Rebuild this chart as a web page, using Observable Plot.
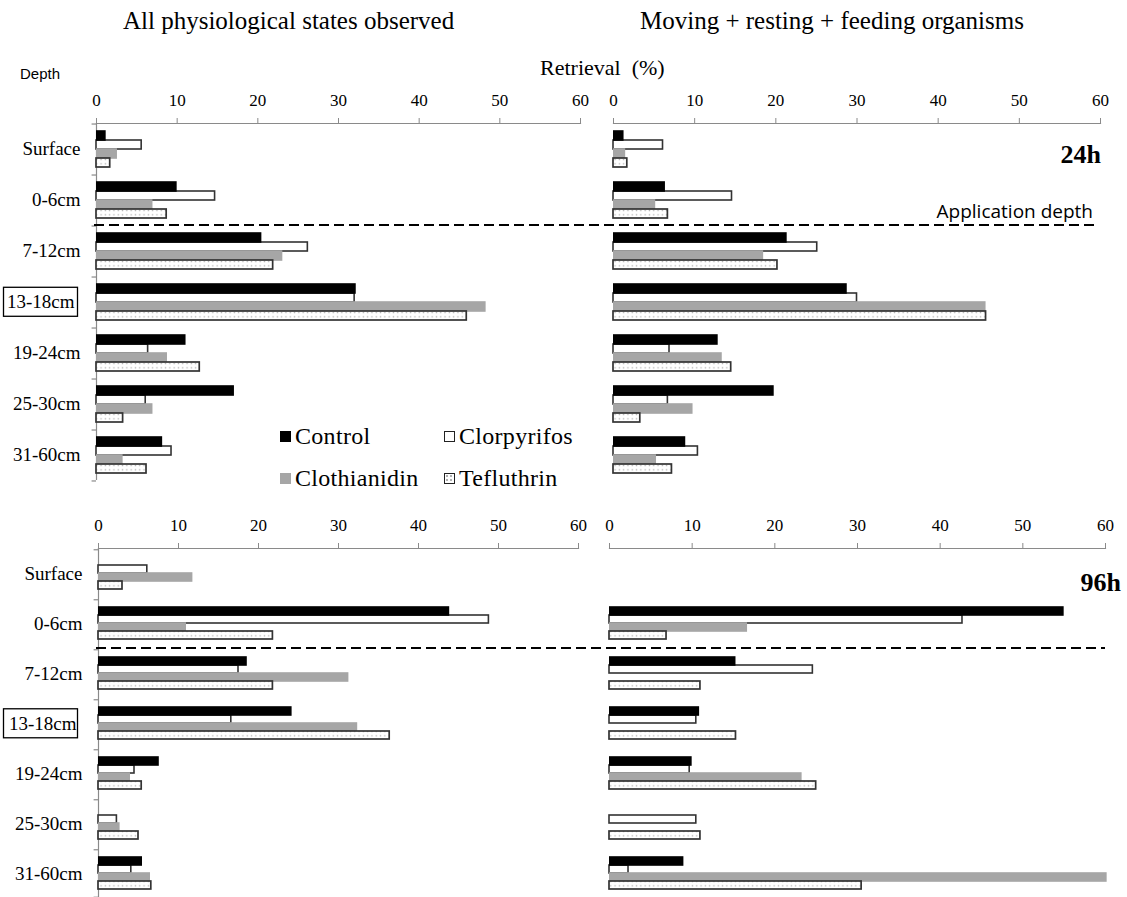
<!DOCTYPE html>
<html><head><meta charset="utf-8">
<script src="https://cdn.jsdelivr.net/npm/d3@7"></script>
<script src="https://cdn.jsdelivr.net/npm/@observablehq/plot@0.6"></script>
<style>
body{margin:0;background:#fff;}
#chart{position:relative;width:1127px;height:897px;overflow:hidden;font-family:"Liberation Serif",serif;color:#000;}
#chart svg text{font-family:"Liberation Serif",serif;}
.abs{position:absolute;white-space:pre;line-height:1;}
.sw{position:absolute;width:11px;height:11px;box-sizing:border-box;}
</style></head><body>
<svg width="0" height="0" style="position:absolute">
 <defs><pattern id="dots" width="4.3" height="4.3" patternUnits="userSpaceOnUse"><rect width="4.3" height="4.3" fill="#fff"/><rect x="1.5" y="1.5" width="1.3" height="1.3" fill="#b0b0b0"/></pattern></defs>
</svg>
<div id="chart"></div>
<script>
const depths = ["Surface","0-6cm","7-12cm","13-18cm","19-24cm","25-30cm","31-60cm"];
const series = ["Control","Clorpyrifos","Clothianidin","Tefluthrin"];
const xTicks = [0,10,20,30,40,50,60];
const boxedDepth = "13-18cm";
const appDepthAfter = "0-6cm";

// 24h — all physiological states
const all24_control = [1.2,10.0,20.5,32.2,11.1,17.1,8.2];
const all24_clorpyrifos = [5.6,14.7,26.2,32.0,6.4,6.1,9.3];
const all24_clothianidin = [2.6,7.0,23.1,48.3,8.8,7.0,3.3];
const all24_tefluthrin = [1.7,8.7,21.9,45.9,12.8,3.3,6.2];
// 24h — moving + resting + feeding
const mov24_control = [1.3,6.4,21.4,28.8,12.9,19.8,8.9];
const mov24_clorpyrifos = [6.1,14.6,25.1,30.0,6.9,6.7,10.4];
const mov24_clothianidin = [1.5,5.2,18.5,45.9,13.4,9.8,5.3];
const mov24_tefluthrin = [1.7,6.7,20.2,45.9,14.5,3.3,7.2];
// 96h — all physiological states
const all96_control = [0,43.9,18.6,24.2,7.6,0,5.5];
const all96_clorpyrifos = [6.1,48.8,17.5,16.6,4.5,2.3,4.1];
const all96_clothianidin = [11.8,11.0,31.3,32.4,4.0,2.7,6.5];
const all96_tefluthrin = [3.0,21.8,21.8,36.4,5.4,5.0,6.6];
// 96h — moving + resting + feeding
const mov96_control = [0,55.0,15.3,10.9,10.0,0,9.0];
const mov96_clorpyrifos = [0,42.7,24.6,10.5,9.7,10.5,2.3];
const mov96_clothianidin = [0,16.7,0,0,23.3,0,60.2];
const mov96_tefluthrin = [0,6.9,11.0,15.3,25.0,11.0,30.5];

const chart = document.getElementById("chart");
const AX = "#8a8a8a";
const P = 0.8;
const SERIF = "Liberation Serif";

function makePanel(vals, o) {
  const rows = [];
  depths.forEach((d, i) => series.forEach((s, j) => {
    const v = vals[j][i];
    if (v > 0) rows.push({depth: d, series: s, value: v});
  }));
  const of = s => rows.filter(r => r.series === s);
  const H = o.height - o.mt - o.mb;
  const facetH = H / depths.length;
  const step = facetH / (series.length + 2 * P);
  const half = P * step + step / 2;
  const base = {fy: "depth", y: "series", x: "value", insetTop: 0, insetBottom: 0};
  const marks = [];
  if (o.labels) {
    marks.push(Plot.ruleX([0], {stroke: AX, strokeWidth: 1.2}));
    marks.push(Plot.ruleY(depths, {fy: d => d, y: () => series[0], x1: -0.55, x2: 0, dy: -half, stroke: AX, strokeWidth: 1.2}));
    marks.push(Plot.ruleY(depths.slice(-1), {fy: d => d, y: () => series[series.length - 1], x1: -0.55, x2: 0, dy: half, stroke: AX, strokeWidth: 1.2}));
    marks.push(Plot.axisFy({anchor: "left", tickSize: 0, tickPadding: 16, fontSize: 19, fontFamily: SERIF, label: null}));
  }
  marks.push(Plot.frame({anchor: "top", facetAnchor: "top", stroke: AX, strokeWidth: 1.2}));
  marks.push(Plot.axisX(xTicks, {anchor: "top", facetAnchor: "top", tickSize: 6, tickPadding: 12, fontSize: 17, fontFamily: SERIF, stroke: AX, label: null}));
  marks.push(Plot.barX(of("Clorpyrifos"), {...base, fill: "#fff", stroke: "#333", strokeWidth: 1.6}));
  marks.push(Plot.barX(of("Control"), {...base, fill: "#000", insetTop: -0.8, insetBottom: -0.8}));
  marks.push(Plot.barX(of("Clothianidin"), {...base, fill: "#a6a6a6", insetTop: -0.8, insetBottom: -0.8}));
  marks.push(Plot.barX(of("Tefluthrin"), {...base, fill: "url(#dots)", stroke: "#333", strokeWidth: 1.7}));
  const svg = Plot.plot({
    width: o.width, height: o.height,
    marginLeft: o.ml, marginRight: o.mr, marginTop: o.mt, marginBottom: o.mb,
    x: {domain: [0, 60], axis: null},
    y: {domain: series, paddingInner: 0, paddingOuter: P, axis: null},
    fy: {domain: depths, padding: 0, axis: null},
    style: "background: transparent; font-family: 'Liberation Serif', serif; color: #000; overflow: visible;",
    marks
  });
  svg.style.position = "absolute";
  svg.style.left = o.left + "px";
  svg.style.top = o.top + "px";
  // the boxed depth label sits a little to the left, inside its frame
  d3.select(svg).selectAll("text").filter(function() { return this.textContent === boxedDepth; })
    .attr("transform", function() { const t = this.getAttribute("transform") || ""; return t + " translate(-6,0)"; });
  chart.appendChild(svg);
  return {svg, o, facetH, fy: svg.scale("fy"), x: svg.scale("x")};
}

const TL = makePanel([all24_control, all24_clorpyrifos, all24_clothianidin, all24_tefluthrin],
  {left: 0, top: 78, width: 600, height: 410, ml: 96, mr: 20, mt: 43, mb: 6, labels: true});
const TR = makePanel([mov24_control, mov24_clorpyrifos, mov24_clothianidin, mov24_tefluthrin],
  {left: 600, top: 78, width: 527, height: 410, ml: 13, mr: 27, mt: 43, mb: 6, labels: false});
const BL = makePanel([all96_control, all96_clorpyrifos, all96_clothianidin, all96_tefluthrin],
  {left: 0, top: 500, width: 600, height: 400, ml: 98, mr: 22, mt: 46, mb: 0, labels: true});
const BR = makePanel([mov96_control, mov96_clorpyrifos, mov96_clothianidin, mov96_tefluthrin],
  {left: 600, top: 500, width: 527, height: 400, ml: 9, mr: 22, mt: 46, mb: 0, labels: false});

function txt(s, o) {
  const d = document.createElement("div");
  d.className = "abs";
  d.textContent = s;
  d.style.fontSize = o.size + "px";
  if (o.family) d.style.fontFamily = o.family;
  if (o.weight) d.style.fontWeight = o.weight;
  if (o.spacing) d.style.letterSpacing = o.spacing;
  d.style.top = (o.cy - o.size / 2) + "px";
  if (o.right != null) d.style.right = (1127 - o.right) + "px"; else d.style.left = o.left + "px";
  chart.appendChild(d);
  return d;
}

txt("All physiological states observed", {left: 123, cy: 20, size: 25});
txt("Moving + resting + feeding organisms", {left: 640, cy: 20, size: 25});
txt("Depth", {left: 20, cy: 73, size: 15, family: "'Liberation Sans', sans-serif"});
txt("Retrieval  (%)", {left: 540, cy: 68, size: 22});
txt("24h", {right: 1101, cy: 155, size: 26, weight: "bold"});
txt("96h", {right: 1121, cy: 583, size: 26, weight: "bold"});
txt("Application depth", {right: 1093, cy: 211, size: 19, family: "'Open Sans', sans-serif"});

// application depth dashed lines & boxed labels from the scales
const over = d3.select(chart).append("svg").attr("width", 1127).attr("height", 897)
  .style("position", "absolute").style("left", 0).style("top", 0).style("pointer-events", "none");
for (const [L, R] of [[TL, TR], [BL, BR]]) {
  const nextDepth = depths[depths.indexOf(appDepthAfter) + 1];
  const y = L.o.top + L.fy.apply(nextDepth);
  const x1 = L.o.left + L.x.apply(0) - 2;
  const x2 = R.o.left + R.x.apply(60) - (L === TL ? 5 : 0);
  over.append("line").attr("x1", x1).attr("x2", x2).attr("y1", y).attr("y2", y)
    .attr("stroke", "#000").attr("stroke-width", 2).attr("stroke-dasharray", "10,5");
  const cy = L.o.top + L.fy.apply(boxedDepth) + L.facetH / 2;
  over.append("rect").attr("x", 3.5).attr("y", cy - 14.5).attr("width", 74).attr("height", 29)
    .attr("fill", "none").attr("stroke", "#000").attr("stroke-width", 1.3);
}

// legend
const legend = [
  {s: "Control", left: 280, cy: 436, bg: "#000", border: "none"},
  {s: "Clorpyrifos", left: 444, cy: 436, bg: "#fff", border: "1.3px solid #222"},
  {s: "Clothianidin", left: 280, cy: 478, bg: "#a6a6a6", border: "none"},
  {s: "Tefluthrin", left: 444, cy: 478, bg: "#fff", border: "1.3px solid #222"}
];
for (const l of legend) {
  const sw = document.createElement("div");
  sw.className = "sw";
  sw.style.left = l.left + "px";
  sw.style.top = (l.cy - 5) + "px";
  sw.style.border = l.border;
  sw.style.background = l.bg;
  if (l.s === "Tefluthrin") {
    sw.style.backgroundImage = "radial-gradient(#b0b0b0 0.8px, transparent 0.9px)";
    sw.style.backgroundSize = "4px 4px";
  }
  chart.appendChild(sw);
  txt(l.s, {left: l.left + 15, cy: l.cy, size: 24, spacing: "0.3px"});
}
</script>
</body></html>
